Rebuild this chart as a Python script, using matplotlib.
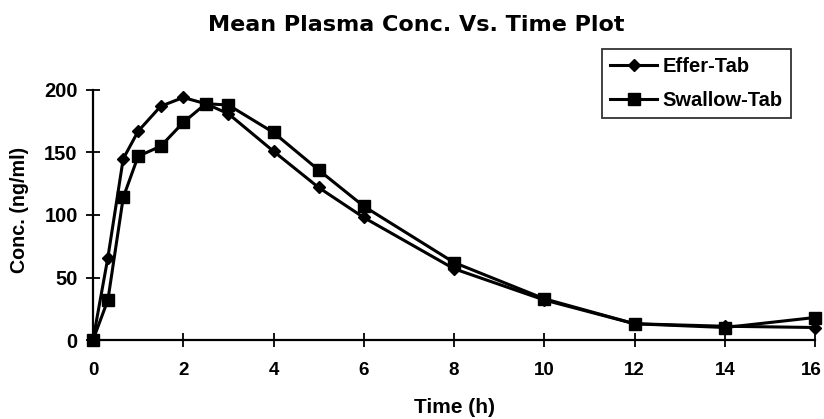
import matplotlib
matplotlib.use("Agg")
import matplotlib.pyplot as plt
import matplotlib.transforms as mtransforms

time_h = [0, 0.33, 0.67, 1, 1.5, 2, 2.5, 3, 4, 5, 6, 8, 10, 12, 14, 16]
effer_tab = [0, 66, 145, 167, 187, 194, 189, 181, 151, 122, 98, 57, 32, 13, 11, 10]
swallow_tab = [0, 32, 114, 147, 155, 174, 189, 188, 166, 136, 107, 62, 33, 13, 10, 18]
x_ticks = [0, 2, 4, 6, 8, 10, 12, 14, 16]
y_ticks = [0, 50, 100, 150, 200]

plt.rcParams['font.family'] = ['Liberation Sans', 'DejaVu Sans']
plt.rcParams['font.weight'] = 'bold'

fig = plt.figure(figsize=(8.24, 4.19), dpi=100)
ax = fig.add_axes([93/824, 1 - 340/419, (815 - 93)/824, (340 - 90)/419])

ax.plot(time_h, effer_tab, color='black', lw=2.2, marker='D', markersize=6.5,
        label='Effer-Tab', clip_on=False, zorder=3)
ax.plot(time_h, swallow_tab, color='black', lw=2.2, marker='s', markersize=8.5,
        label='Swallow-Tab', clip_on=False, zorder=3)

ax.set_xlim(0, 16)
ax.set_ylim(0, 200)
ax.set_xticks(x_ticks)
ax.set_yticks(y_ticks)
ax.tick_params(direction='inout', length=10, width=1.3, labelsize=14.5)
ax.tick_params(axis='x', pad=11, labelsize=13.5)
ax.tick_params(axis='y', pad=6)
for lab in ax.get_xticklabels() + ax.get_yticklabels():
    lab.set_fontweight('bold')
# keep the last x tick label ("16") inside the figure edge
last = ax.get_xticklabels()[-1]
last.set_transform(last.get_transform() +
                   mtransforms.ScaledTranslation(-4/100, 0, fig.dpi_scale_trans))
ax.spines['top'].set_visible(False)
ax.spines['right'].set_visible(False)
ax.spines['left'].set_linewidth(1.6)
ax.spines['bottom'].set_linewidth(1.6)

fig.text(455/824, 1 - 407/419, 'Time (h)', ha='center', va='center',
         fontsize=15, fontweight='bold')
fig.text(20/824, 1 - 210/419, 'Conc. (ng/ml)', ha='center', va='center',
         rotation=90, fontsize=14.2, fontweight='bold')
fig.text(416/824, 1 - 31/419, 'Mean Plasma Conc. Vs. Time Plot', ha='center',
         va='baseline', fontsize=16, fontweight='bold', family='DejaVu Sans')

leg = fig.legend(loc='upper right', bbox_to_anchor=(791/824, 1 - 49/419), frameon=True,
                 fancybox=False, edgecolor='black', fontsize=14.5, handlelength=2.3,
                 borderpad=0.4, labelspacing=0.75, handletextpad=0.3, borderaxespad=0)
leg.get_frame().set_linewidth(1.3)
for t in leg.get_texts():
    t.set_fontweight('bold')

fig.savefig('out.png', dpi=100)
